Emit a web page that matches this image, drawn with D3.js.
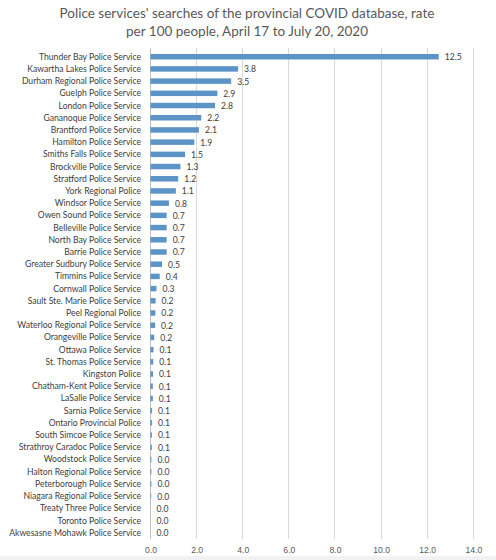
<!DOCTYPE html>
<html>
<head>
<meta charset="utf-8">
<script src="https://cdn.jsdelivr.net/npm/d3@7"></script>
<style>
  body { margin: 0; background: #fff; }
  svg { display: block; font-family: Lato, "Open Sans", sans-serif; }
  .title { fill: #595959; font-size: 13.5px; }
  .cat { fill: #404040; font-size: 8.6px; }
  .val { fill: #404040; font-size: 8.6px; }
  .tick text { fill: #595959; font-size: 8.6px; }
</style>
</head>
<body>
<div id="chart"></div>
<script>
// police services, top to bottom as in the chart
const services = [
  "Thunder Bay Police Service", "Kawartha Lakes Police Service", "Durham Regional Police Service",
  "Guelph Police Service", "London Police Service", "Gananoque Police Service",
  "Brantford Police Service", "Hamilton Police Service", "Smiths Falls Police Service",
  "Brockville Police Service", "Stratford Police Service", "York Regional Police",
  "Windsor Police Service", "Owen Sound Police Service", "Belleville Police Service",
  "North Bay Police Service", "Barrie Police Service", "Greater Sudbury Police Service",
  "Timmins Police Service", "Cornwall Police Service", "Sault Ste. Marie Police Service",
  "Peel Regional Police", "Waterloo Regional Police Service", "Orangeville Police Service",
  "Ottawa Police Service", "St. Thomas Police Service", "Kingston Police",
  "Chatham-Kent Police Service", "LaSalle Police Service", "Sarnia Police Service",
  "Ontario Provincial Police", "South Simcoe Police Service", "Strathroy Caradoc Police Service",
  "Woodstock Police Service", "Halton Regional Police Service", "Peterborough Police Service",
  "Niagara Regional Police Service", "Treaty Three Police Service", "Toronto Police Service",
  "Akwesasne Mohawk Police Service"
];
// searches per 100 people (small ones)
const rates = [
  12.5, 3.8, 3.5, 2.9, 2.8, 2.2, 2.1, 1.9, 1.5, 1.3, 1.2, 1.1, 0.8, 0.7, 0.7, 0.7, 0.7,
  0.5, 0.4, 0.26, 0.22, 0.21, 0.2, 0.16, 0.13, 0.12, 0.11, 0.1, 0.1, 0.07, 0.07, 0.06,
  0.06, 0.04, 0.04, 0.04, 0.03, 0, 0, 0
];
const xTicks = [0, 2, 4, 6, 8, 10, 12, 14];
const titleLines = [
  "Police services' searches of the provincial COVID database, rate",
  "per 100 people, April 17 to July 20, 2020"
];

const data = services.map((s, i) => ({ name: s, value: rates[i] }));

const W = 496, H = 560;
const svg = d3.select("#chart").append("svg").attr("width", W).attr("height", H);

svg.selectAll(".title").data(titleLines).enter()
  .append("text").attr("class", "title")
  .attr("x", 247).attr("y", (d, i) => 17.5 + i * 18.5)
  .attr("text-anchor", "middle")
  .text(d => d);

const x = d3.scaleLinear().domain([0, 14]).range([150.5, 473.3]);
const y = d3.scaleBand().domain(services).range([50.6, 538.8]).paddingInner(0.55).paddingOuter(0.275);

// gridlines
svg.append("g").selectAll("line").data(xTicks).enter()
  .append("line")
  .attr("x1", d => x(d)).attr("x2", d => x(d))
  .attr("y1", 48).attr("y2", 539)
  .attr("stroke", d => d === 0 ? "#bfbfbf" : "#d9d9d9")
  .attr("stroke-width", 1)
  .attr("shape-rendering", "crispEdges");

// x axis labels
const xAxis = svg.append("g").attr("transform", "translate(0,541)")
  .call(d3.axisBottom(x).tickValues(xTicks).tickFormat(d3.format(".1f")).tickSize(0).tickPadding(6));
xAxis.select(".domain").remove();

// category labels
svg.append("g").selectAll("text").data(data).enter()
  .append("text").attr("class", "cat")
  .attr("x", 141).attr("y", d => y(d.name) + y.bandwidth() / 2)
  .attr("dy", "0.35em").attr("text-anchor", "end")
  .text(d => d.name);

// bars
svg.append("g").selectAll("rect").data(data).enter()
  .append("rect")
  .attr("x", x(0)).attr("y", d => y(d.name))
  .attr("width", d => x(d.value) - x(0))
  .attr("height", y.bandwidth())
  .attr("fill", "#5d94c8");

// value labels
svg.append("g").selectAll("text").data(data).enter()
  .append("text").attr("class", "val")
  .attr("x", d => x(d.value) + 6).attr("y", d => y(d.name) + y.bandwidth() / 2)
  .attr("dy", "0.4em")
  .text(d => d3.format(".1f")(d.value));

// light strip along the bottom edge
svg.append("rect").attr("x", 0).attr("y", 556).attr("width", W).attr("height", 4).attr("fill", "#f2f2f2");
</script>
</body>
</html>
